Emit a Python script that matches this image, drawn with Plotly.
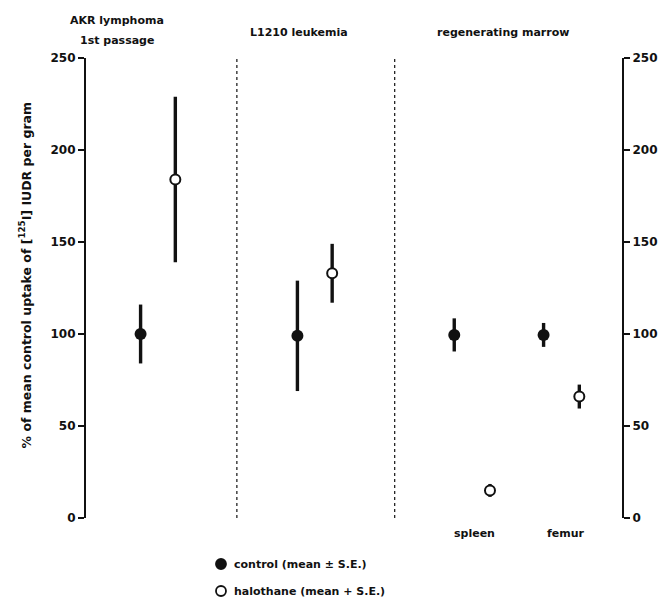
import plotly.graph_objects as go

# ---- data ----
groups = ["AKR lymphoma", "L1210 leukemia", "spleen", "femur"]
control_mean = [100, 99, 99.5, 99.5]
control_se = [16, 30, 9, 6.5]
halothane_mean = [184, 133, 15, 66]
halothane_se = [45, 16, 3.5, 6.5]
y_ticks = [0, 50, 100, 150, 200, 250]

# ---- layout constants (pixel-like x positions inside plot area) ----
ctrl_x = [55, 213, 371, 461]
hal_x = [90, 248, 407, 497]
dividers = [152, 311]

FONT = "DejaVu Sans"
BLACK = "#111111"

fig = go.Figure()
fig.add_trace(go.Scatter(
    x=ctrl_x, y=control_mean, mode="markers", name="control",
    marker=dict(color=BLACK, size=12, line=dict(width=0)),
    error_y=dict(type="data", array=control_se, width=0, thickness=3.4, color=BLACK),
    showlegend=False))
fig.add_trace(go.Scatter(
    x=hal_x, y=halothane_mean, mode="markers", name="halothane",
    marker=dict(color="white", size=10, line=dict(width=2, color=BLACK)),
    error_y=dict(type="data", array=halothane_se, width=0, thickness=3.4, color=BLACK),
    showlegend=False))
# invisible trace to activate the right axis
fig.add_trace(go.Scatter(x=[0], y=[0], yaxis="y2", mode="markers",
                         marker=dict(opacity=0), showlegend=False, hoverinfo="skip"))

for d in dividers:
    fig.add_shape(type="line", x0=d, x1=d, y0=0, y1=250, xref="x", yref="y",
                  line=dict(color=BLACK, width=1.2, dash="dot"))

axis_common = dict(range=[0, 250], tickvals=y_ticks, ticks="outside", ticklen=6,
                   tickwidth=2, tickcolor=BLACK, showline=True, linewidth=2.2,
                   linecolor=BLACK, showgrid=False, zeroline=False,
                   tickfont=dict(family=FONT, size=12, color=BLACK, weight="bold"))

fig.update_layout(
    width=670, height=598,
    margin=dict(l=86, r=44, t=58, b=80),
    paper_bgcolor="white", plot_bgcolor="white",
    font=dict(family=FONT, color=BLACK, weight="bold"),
    xaxis=dict(range=[0, 540], visible=False),
    yaxis=dict(**axis_common),
    yaxis2=dict(**axis_common, overlaying="y", side="right"),
)

def px_y(py):
    return (518 - py) / 460

ann = [
    dict(text="AKR lymphoma", x=117, y=px_y(20)),
    dict(text="1st passage", x=117, y=px_y(40)),
    dict(text="L1210 leukemia", x=301, y=px_y(33)),
    dict(text="regenerating marrow", x=506, y=px_y(33)),
    dict(text="spleen", x=477, y=px_y(533)),
    dict(text="femur", x=570, y=px_y(533)),
]
for a in ann:
    fig.add_annotation(text=a["text"], x=(a["x"] - 86) / 540, y=a["y"], xref="paper", yref="paper",
                       showarrow=False, xanchor="center", yanchor="middle",
                       font=dict(family=FONT, size=11, color=BLACK, weight="bold"))

fig.add_annotation(text="% of mean control uptake of [<sup>125</sup>I] IUDR per gram",
                   x=(25 - 86) / 540, y=px_y(275), xref="paper", yref="paper", textangle=-90,
                   showarrow=False, xanchor="center", yanchor="middle",
                   font=dict(family=FONT, size=12.5, color=BLACK, weight="bold"))

# legend
leg = [("control (mean ± S.E.)", 564, BLACK), ("halothane (mean + S.E.)", 591, "white")]
for txt, py, fill in leg:
    fig.add_shape(type="circle", xref="paper", yref="paper",
                  xsizemode="pixel", ysizemode="pixel",
                  xanchor=(222 - 86) / 540, yanchor=px_y(py),
                  x0=-5, x1=5, y0=-5, y1=5,
                  fillcolor=fill, line=dict(color=BLACK, width=1.8))
    fig.add_annotation(text=txt, x=(233 - 86) / 540, y=px_y(py), xref="paper", yref="paper",
                       showarrow=False, xanchor="left", yanchor="middle",
                       font=dict(family=FONT, size=11, color=BLACK, weight="bold"))

fig.write_html("out.html")
